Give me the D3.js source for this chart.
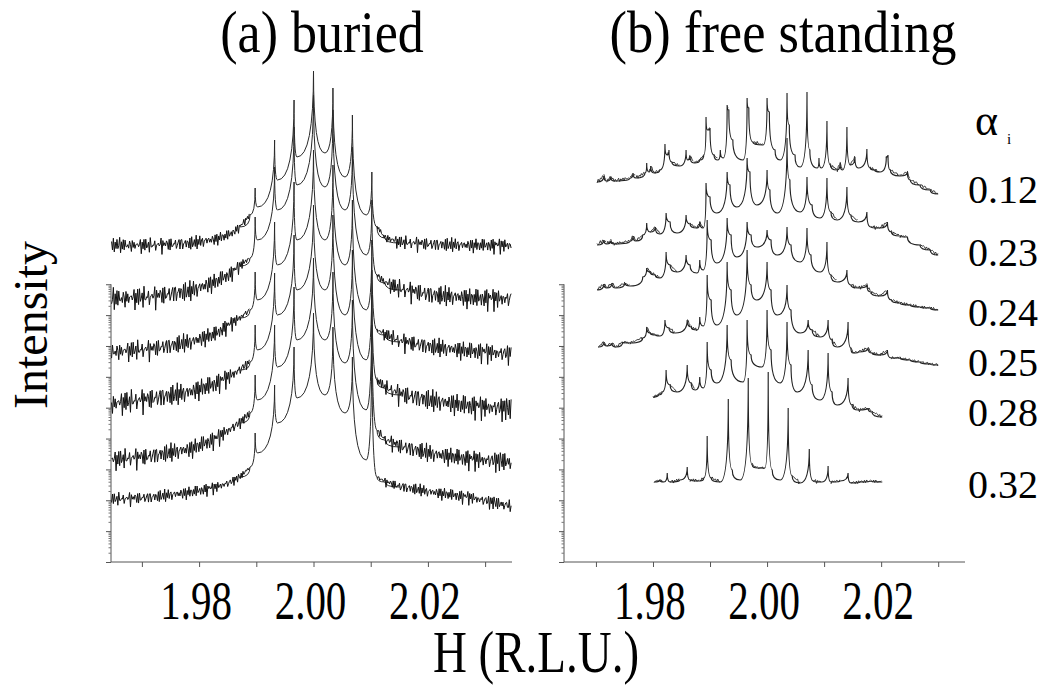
<!DOCTYPE html>
<html>
<head>
<meta charset="utf-8">
<script src="https://d3js.org/d3.v7.min.js"></script>
<style>
  body { margin: 0; background: #fff; }
</style>
</head>
<body>
<script>
// ---------- data (H in r.l.u., intensity in offset log units) ----------
// panel (a): common H grid, one value row per curve (top curve first)
const hA = [1.9647, 1.9715, 1.9785, 1.9828, 1.9854, 1.9872, 1.9889,
  1.9898, 1.9902, 1.9932, 1.9937, 1.9966, 1.9971, 2.0000, 2.0020, 2.0034, 2.0055,
  2.0068, 2.0092, 2.0102, 2.0111, 2.0125, 2.0151, 2.0209, 2.0273, 2.0346];
const buried = [
  [31.6, 31.6, 31.8, 32.2, 32.7, 33.5, 34.7, 37.4, 35.5, 42.2, 38.2, 46.2, 40.5, 49.1, 40.9, 47.4, 38.5, 44.7, 34.7, 39.0, 33.5, 32.4, 31.9, 31.7, 31.6, 31.6],
  [26.2, 26.4, 27.0, 27.9, 28.7, 29.6, 30.4, 34.5, 32.2, 39.5, 35.2, 43.5, 37.7, 46.7, 37.5, 45.2, 35.2, 41.5, 30.7, 36.2, 28.7, 27.9, 27.2, 26.6, 26.3, 26.2],
  [20.9, 21.2, 21.9, 22.7, 23.7, 24.4, 25.2, 29.0, 26.2, 34.0, 29.7, 38.0, 32.2, 41.2, 32.2, 39.7, 29.7, 36.2, 25.2, 32.2, 23.2, 22.7, 22.0, 21.4, 21.0, 20.7],
  [15.7, 16.2, 16.9, 17.7, 18.5, 19.2, 20.0, 23.7, 21.2, 28.9, 24.7, 32.7, 27.2, 35.7, 27.2, 34.7, 24.7, 31.2, 20.2, 29.2, 18.2, 17.4, 16.7, 16.0, 15.5, 15.2],
  [10.1, 10.5, 11.2, 12.2, 13.2, 13.9, 14.9, 18.7, 16.2, 23.7, 19.5, 27.5, 22.2, 30.4, 22.2, 29.0, 19.9, 26.2, 15.2, 26.7, 13.2, 12.2, 11.5, 10.7, 10.2, 9.9],
  [6.2, 6.4, 6.9, 7.4, 7.9, 8.5, 9.5, 12.9, 10.9, 17.7, 13.9, 21.5, 16.4, 24.9, 16.7, 23.5, 14.9, 20.5, 10.2, 23.7, 8.5, 8.0, 7.5, 6.9, 6.4, 5.5]
];
// half width of the counting noise on the wings of each buried scan, and where it applies
const noiseAmpA = [0.9, 1.3, 1.2, 1.4, 1.2, 0.8];
const noiseMaskA = [1, 1, 1, 0.9, 0.75, 0.55, 0.3, 0, 0, 0, 0, 0, 0, 0, 0, 0, 0, 0, 0, 0, 0.25, 0.6, 0.9, 1, 1, 1];

// panel (b): [H, intensity] per curve, top (0.12) to bottom (0.32)
const free012 = [[1.9702,38.0],[1.9714,38.6],[1.9719,38.1],[1.9726,38.5],[1.9732,38.1],[1.9760,38.4],[1.9765,38.9],[1.9770,38.4],[1.9786,38.9],[1.9789,39.9],[1.9793,39.0],[1.9796,39.6],[1.9802,38.9],[1.9812,39.2],[1.9821,41.8],[1.9825,40.7],[1.9828,41.2],[1.9833,40.0],[1.9847,39.6],[1.9858,41.2],[1.9861,40.2],[1.9865,40.6],[1.9872,39.9],[1.9882,40.2],[1.9889,40.7],[1.9893,44.5],[1.9896,43.2],[1.9900,43.4],[1.9907,40.7],[1.9914,40.2],[1.9918,41.2],[1.9923,40.4],[1.9930,45.7],[1.9933,45.2],[1.9940,42.2],[1.9958,40.2],[1.9965,46.4],[1.9968,45.4],[1.9975,42.0],[1.9993,41.7],[2.0000,46.4],[2.0004,45.0],[2.0014,41.2],[2.0023,40.2],[2.0035,46.9],[2.0039,43.7],[2.0049,40.7],[2.0058,39.5],[2.0070,47.0],[2.0075,41.2],[2.0088,39.4],[2.0091,40.4],[2.0095,39.4],[2.0105,44.1],[2.0111,39.7],[2.0123,39.2],[2.0128,39.9],[2.0132,39.2],[2.0140,43.5],[2.0146,39.7],[2.0154,40.5],[2.0160,39.4],[2.0175,41.3],[2.0181,39.4],[2.0189,39.2],[2.0198,39.0],[2.0209,40.5],[2.0212,40.7],[2.0216,39.2],[2.0233,38.6],[2.0246,39.0],[2.0251,38.2],[2.0268,37.7],[2.0286,37.2],[2.0300,36.8]];
const free023 = [[1.9702,31.7],[1.9714,32.2],[1.9719,31.8],[1.9726,32.1],[1.9732,31.8],[1.9760,32.1],[1.9765,32.6],[1.9770,32.1],[1.9782,32.7],[1.9789,33.9],[1.9795,33.0],[1.9804,33.5],[1.9812,32.8],[1.9823,34.9],[1.9830,34.0],[1.9842,32.9],[1.9858,34.7],[1.9865,33.8],[1.9877,33.4],[1.9882,34.0],[1.9888,33.4],[1.9893,37.9],[1.9900,36.5],[1.9912,34.9],[1.9930,39.0],[1.9935,37.7],[1.9947,35.5],[1.9965,40.4],[1.9970,39.0],[1.9982,35.7],[2.0000,39.2],[2.0005,37.2],[2.0018,34.9],[2.0035,42.4],[2.0040,38.2],[2.0058,35.0],[2.0070,38.5],[2.0079,35.7],[2.0093,34.4],[2.0105,38.4],[2.0112,35.0],[2.0123,34.2],[2.0140,37.5],[2.0147,34.7],[2.0160,34.0],[2.0175,35.0],[2.0182,33.5],[2.0198,33.4],[2.0211,34.0],[2.0218,33.0],[2.0233,32.6],[2.0246,32.5],[2.0268,31.7],[2.0286,31.2],[2.0300,30.7]];
const free024 = [[1.9702,27.2],[1.9714,27.8],[1.9719,27.4],[1.9728,27.9],[1.9735,27.4],[1.9751,27.9],[1.9760,27.6],[1.9782,28.5],[1.9789,29.4],[1.9795,29.0],[1.9804,28.7],[1.9812,28.4],[1.9823,31.0],[1.9830,29.7],[1.9842,29.0],[1.9858,30.7],[1.9865,29.7],[1.9877,28.9],[1.9882,30.2],[1.9888,29.2],[1.9895,34.2],[1.9902,32.2],[1.9912,29.9],[1.9930,34.4],[1.9937,32.7],[1.9947,30.5],[1.9965,34.0],[1.9972,32.7],[1.9982,31.5],[2.0000,33.2],[2.0007,32.2],[2.0018,30.7],[2.0035,33.5],[2.0042,31.7],[2.0058,30.0],[2.0070,33.4],[2.0077,30.7],[2.0093,29.0],[2.0105,32.0],[2.0112,28.7],[2.0123,28.0],[2.0140,29.2],[2.0147,27.7],[2.0160,27.4],[2.0175,27.7],[2.0182,27.0],[2.0198,26.6],[2.0211,27.2],[2.0218,26.2],[2.0233,25.9],[2.0251,25.7],[2.0268,25.5],[2.0286,25.4],[2.0300,25.2]];
const free025 = [[1.9704,21.5],[1.9714,22.0],[1.9719,21.6],[1.9728,21.9],[1.9735,21.5],[1.9747,22.0],[1.9760,21.9],[1.9782,22.4],[1.9789,23.5],[1.9795,22.9],[1.9805,22.7],[1.9812,22.6],[1.9821,24.2],[1.9828,23.4],[1.9839,22.9],[1.9860,24.2],[1.9867,23.5],[1.9877,23.2],[1.9882,24.5],[1.9888,23.6],[1.9895,28.7],[1.9902,26.2],[1.9912,23.7],[1.9930,30.0],[1.9937,27.2],[1.9947,24.7],[1.9965,31.2],[1.9972,27.7],[1.9982,26.2],[2.0000,30.0],[2.0007,27.2],[2.0018,24.7],[2.0035,27.7],[2.0042,25.2],[2.0058,22.9],[2.0072,24.2],[2.0079,23.2],[2.0093,22.5],[2.0107,24.2],[2.0114,22.2],[2.0123,21.5],[2.0142,24.0],[2.0147,21.4],[2.0151,20.9],[2.0160,21.0],[2.0177,21.4],[2.0184,20.9],[2.0198,20.7],[2.0211,21.2],[2.0218,20.4],[2.0233,20.4],[2.0251,20.2],[2.0268,20.0],[2.0286,19.8],[2.0300,19.7]];
const free028 = [[1.9800,16.5],[1.9809,16.7],[1.9816,17.0],[1.9823,19.2],[1.9830,17.7],[1.9842,17.0],[1.9860,19.7],[1.9867,17.9],[1.9874,17.2],[1.9882,18.5],[1.9888,17.4],[1.9895,22.0],[1.9902,19.2],[1.9912,17.9],[1.9930,23.7],[1.9937,20.2],[1.9958,18.0],[1.9965,24.2],[1.9972,20.7],[1.9991,19.5],[2.0000,25.2],[2.0007,21.2],[2.0023,17.9],[2.0035,24.0],[2.0042,19.7],[2.0053,17.0],[2.0072,21.2],[2.0079,17.7],[2.0093,16.2],[2.0107,20.9],[2.0114,17.0],[2.0123,15.7],[2.0142,18.4],[2.0149,15.7],[2.0160,15.2],[2.0177,15.4],[2.0184,15.0],[2.0202,14.5]];
const free032 = [[1.9802,8.0],[1.9812,8.2],[1.9819,8.0],[1.9825,8.9],[1.9830,8.0],[1.9847,8.2],[1.9860,9.5],[1.9865,8.2],[1.9882,8.1],[1.9889,8.4],[1.9895,12.6],[1.9902,8.4],[1.9918,8.0],[1.9932,16.3],[1.9939,9.2],[1.9953,8.2],[1.9967,18.4],[1.9974,9.7],[1.9984,9.4],[1.9996,9.4],[2.0002,19.0],[2.0009,9.2],[2.0023,8.2],[2.0037,15.4],[2.0044,8.6],[2.0058,7.9],[2.0074,11.3],[2.0081,8.1],[2.0096,8.0],[2.0107,9.6],[2.0112,8.0],[2.0128,8.1],[2.0142,8.9],[2.0147,7.9],[2.0163,8.0],[2.0181,8.1],[2.0202,8.0]];
const freeCurves = [free012, free023, free024, free025, free028, free032];
const noiseAmpB = 0.2;   // scatter on the flat parts of the free standing scans
const alphaLabels = ["0.12", "0.23", "0.24", "0.25", "0.28", "0.32"];

const xTicks = [1.97, 1.98, 1.99, 2.00, 2.01, 2.02, 2.03];
const xLabels = [1.98, 2.00, 2.02];
const decade = 3.086;   // one decade of intensity on the log axis

// ---------- drawing ----------
const FONT = "'Liberation Serif', 'Times New Roman', Times, serif";
const svg = d3.select("body").append("svg").attr("width", 1043).attr("height", 688)
  .style("font-family", FONT);

const xA = d3.scaleLinear().domain([1.9646, 2.0347]).range([111, 512]);
const xB = d3.scaleLinear().domain([1.9644, 2.0347]).range([564, 965]);
const y = d3.scaleLinear().domain([0, 50]).range([562, 62]);

// quadratic "cusp" curve: sharp tops, flat valleys
function cusp(context) {
  let x0, y0, started;
  return {
    areaStart() {}, areaEnd() {},
    lineStart() { started = false; },
    lineEnd() {},
    point(x, yy) {
      x = +x; yy = +yy;
      if (!started) { context.moveTo(x, yy); started = true; }
      else if (yy < y0) context.quadraticCurveTo(x, y0, x, yy);
      else context.quadraticCurveTo(x0, yy, x, yy);
      x0 = x; y0 = yy;
    }
  };
}

// stroke texture used to render counting noise (a line style, like a dash array)
const tex1 = [0.6, -0.3, 0.9, -0.9, 0.4, 0.1, 0.8, -0.5, 0.3, 1.0, -1.0, 0.5, -0.1, 0.7, -0.6, 0.9, 0.2, -0.3, 0.6, -0.8, 0.95, 0.0, -0.4];
const tex2 = [0.3, -0.7, 0.8, -0.2, 0.5, -1.0, 0.6, 0.1, -0.5, 0.9, -0.3, 0.4, -0.8, 0.7, -0.1, 0.2, -0.6];
const texAt = j => 0.65 * tex1[j % tex1.length] + 0.35 * tex2[j % tex2.length];

function noisyPath(x, x0, x1, centre, amp, step, phase) {
  const pts = [];
  let j = phase;
  for (let px = x0; px <= x1 + 0.01; px += step, j++) {
    const h = x.invert(px);
    pts.push([px, y(centre(h) + amp(h) * texAt(j))]);
  }
  return d3.line()(pts);
}

function drawAxes(x, x0) {
  const gx = svg.append("g").attr("transform", "translate(0,562)")
    .call(d3.axisBottom(x).tickValues(xTicks).tickSize(5).tickFormat(""));
  gx.select(".domain").attr("d", `M${x.range()[0]},0H${x.range()[1]}`);
  gx.selectAll("path,line").attr("stroke", "#555");

  const majors = d3.range(0, 10).map(k => k * decade);
  const minors = [];
  d3.range(0, 9).forEach(k => [2, 3, 4, 5, 6, 7, 8, 9].forEach(m => minors.push((k + Math.log10(m)) * decade)));
  const gy = svg.append("g").attr("transform", `translate(${x0},0)`)
    .call(d3.axisLeft(y).tickValues(majors).tickSize(5).tickFormat(""));
  gy.select(".domain").attr("d", `M0,${y(9 * decade)}V562`);
  gy.selectAll("path,line").attr("stroke", "#555");
  const gm = svg.append("g").attr("transform", `translate(${x0},0)`)
    .call(d3.axisLeft(y).tickValues(minors).tickSize(2.5).tickFormat(""));
  gm.select(".domain").remove();
  gm.selectAll("line").attr("stroke", "#777");

  xLabels.forEach(v => {
    svg.append("text")
      .attr("transform", `translate(${x(v) - 3},619) scale(1,1.32)`)
      .attr("text-anchor", "middle").attr("font-size", 41)
      .text(v.toFixed(2));
  });
}
drawAxes(xA, 111);
drawAxes(xB, 564);

// panel (a): clean centre with peaks, noisy wings
const lineA = d3.line()
  .defined((d, i) => i >= 5 && i <= 22)
  .x((d, i) => xA(hA[i])).y(d => y(d)).curve(cusp);
buried.forEach((row, k) => {
  svg.append("path").datum(row).attr("d", lineA)
    .attr("fill", "none").attr("stroke", "#2a2a2a").attr("stroke-width", 1);
  const centre = d3.scaleLinear().domain(hA).range(row);
  const mask = d3.scaleLinear().domain(hA).range(noiseMaskA);
  [[0, 6], [20, 25]].forEach(([a, b], s) => {
    svg.append("path")
      .attr("d", noisyPath(xA, xA(hA[a]), xA(hA[b]), centre, h => noiseAmpA[k] * mask(h), 0.9, 7 * k + 11 * s))
      .attr("fill", "none").attr("stroke", "#111").attr("stroke-width", 1);
  });
});

// panel (b)
const lineB = d3.line().x(d => xB(d[0])).y(d => y(d[1])).curve(cusp);
freeCurves.forEach((c, k) => {
  svg.append("path").datum(c).attr("d", lineB)
    .attr("fill", "none").attr("stroke", "#222").attr("stroke-width", 1.15);
  // scatter on the flat stretches between peaks
  for (let i = 1; i < c.length; i++) {
    if (Math.abs(c[i][1] - c[i - 1][1]) > 0.8) continue;
    const seg = d3.scaleLinear().domain([c[i - 1][0], c[i][0]]).range([c[i - 1][1], c[i][1]]);
    svg.append("path")
      .attr("d", noisyPath(xB, xB(c[i - 1][0]), xB(c[i][0]), seg, () => noiseAmpB, 1.1, 5 * k + i))
      .attr("fill", "none").attr("stroke", "#222").attr("stroke-width", 0.9);
  }
});

// titles and labels
svg.append("text").attr("transform", "translate(322,52) scale(1,1.12)")
  .attr("text-anchor", "middle").attr("font-size", 52).text("(a) buried");
svg.append("text").attr("transform", "translate(783,52) scale(1,1.12)")
  .attr("text-anchor", "middle").attr("font-size", 52.5).text("(b) free standing");
svg.append("text").attr("transform", "translate(47,325) rotate(-90)")
  .attr("text-anchor", "middle").attr("font-size", 48).text("Intensity");
svg.append("text").attr("transform", "translate(536,672) scale(1,1.26)")
  .attr("text-anchor", "middle").attr("font-size", 47).text("H (R.L.U.)");

svg.append("text").attr("x", 975).attr("y", 135).attr("font-size", 44).text("α");
svg.append("text").attr("x", 1007).attr("y", 144).attr("font-size", 15).text("i");
const labelBase = [203, 266, 326, 376, 426, 498];
alphaLabels.forEach((t, i) => {
  svg.append("text").attr("x", 968).attr("y", labelBase[i]).attr("font-size", 40).text(t);
});
</script>
</body>
</html>
